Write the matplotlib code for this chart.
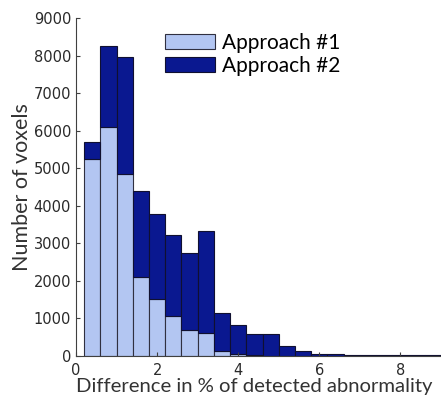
import numpy as np
import matplotlib.pyplot as plt

# bin centres (% difference) and counts per approach, stacked
centres = [0.4, 0.8, 1.2, 1.6, 2.0, 2.4, 2.8, 3.2, 3.6, 4.0, 4.4,
           4.8, 5.2, 5.6, 6.0, 6.4, 6.8, 7.2, 7.6, 8.0, 8.4, 8.8]
approach1 = [5250, 6100, 4850, 2100, 1520, 1070, 700, 600, 140, 55, 15,
             10, 5, 0, 0, 0, 0, 0, 0, 0, 0, 0]
approach2 = [450, 2160, 3100, 2300, 2250, 2150, 2030, 2740, 1000, 775, 575,
             580, 265, 140, 60, 40, 30, 30, 25, 20, 20, 15]
xticks = [0, 2, 4, 6, 8]
yticks = [0, 1000, 2000, 3000, 4000, 5000, 6000, 7000, 8000, 9000]

light = '#b3c6f2'
dark = '#0a1890'

fig = plt.figure(figsize=(4.41, 3.98), dpi=100)
ax = fig.add_axes([76/441, 42/398, 365/441, 338/398])

ax.bar(centres, approach1, width=0.4, color=light, edgecolor='#303040',
       linewidth=0.8, label='Approach #1')
ax.bar(centres, approach2, width=0.4, bottom=approach1, color=dark,
       edgecolor='#101030', linewidth=0.8, label='Approach #2')

ax.set_xlim(0, 9)
ax.set_ylim(0, 9000)
ax.set_xticks(xticks)
ax.set_yticks(yticks)
ax.spines['top'].set_visible(False)
ax.spines['right'].set_visible(False)
for s in ('left', 'bottom'):
    ax.spines[s].set_color('#404040')
ax.tick_params(direction='in', length=3, color='#404040', labelcolor='#2a2a2a',
               labelsize=10.5)
ax.tick_params(axis='x', pad=5)
for lab in ax.get_xticklabels() + ax.get_yticklabels():
    lab.set_family(['Liberation Sans Narrow', 'DejaVu Sans'])

xl = ax.set_xlabel('Difference in % of detected abnormality', fontsize=14.6,
                   family='Lato', color='#333333', labelpad=0)
ax.xaxis.set_label_coords(0.488, -0.066)
xl.set_va('top')
ax.set_ylabel('Number of voxels', fontsize=15.5, family='Lato',
              color='#333333', labelpad=1)

ax.legend(loc='upper left', bbox_to_anchor=(0.205, 1.0), frameon=False,
          prop={'family': 'Lato', 'size': 15}, handlelength=2.4,
          handleheight=0.75, handletextpad=0.3, labelspacing=0.15,
          borderaxespad=0.3)

plt.savefig('out.png', dpi=100)
